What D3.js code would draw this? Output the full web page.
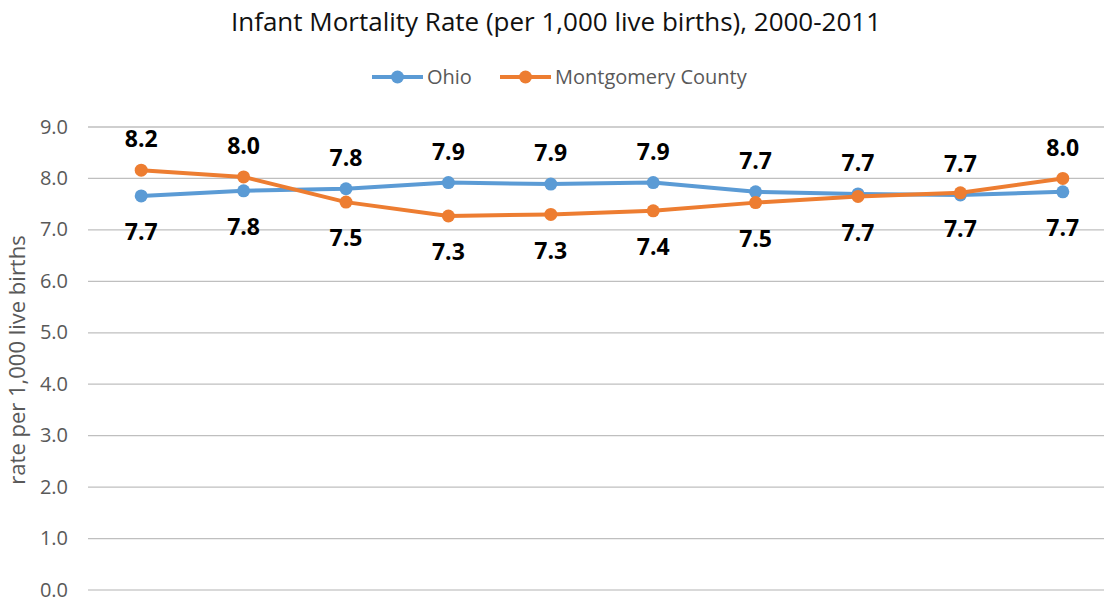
<!DOCTYPE html>
<html>
<head>
<meta charset="utf-8">
<script src="https://cdn.jsdelivr.net/npm/d3@7"></script>
<style>
  html, body { margin: 0; padding: 0; background: #fff; }
  svg { display: block; font-family: "Open Sans", sans-serif; }
</style>
</head>
<body>
<svg id="chart" width="1104" height="600"></svg>
<script>
// 3-year periods across 2000-2011 (axis labels fall below the visible area)
const periods = ["2000-2002", "2001-2003", "2002-2004", "2003-2005", "2004-2006",
  "2005-2007", "2006-2008", "2007-2009", "2008-2010", "2009-2011"];
const ohio = [7.66, 7.76, 7.80, 7.92, 7.89, 7.92, 7.74, 7.70, 7.68, 7.74];
const montgomery = [8.16, 8.03, 7.54, 7.27, 7.30, 7.37, 7.53, 7.65, 7.72, 8.00];
// whether the Ohio label sits above its point (Montgomery goes the other way)
const ohioLabelAbove = [false, false, true, true, true, true, true, true, true, false];
const yTicks = [0, 1, 2, 3, 4, 5, 6, 7, 8, 9];

const svg = d3.select("#chart");
const width = 1104;

const x = d3.scalePoint().domain(periods).range([90, 1114]).padding(0.5);
const y = d3.scaleLinear().domain([0, 9]).range([590, 127]);

const series = [
  { name: "Ohio", values: ohio, color: "#5B9BD5" },
  { name: "Montgomery County", values: montgomery, color: "#ED7D31" }
];

// title
svg.append("text")
  .attr("x", 556).attr("y", 31)
  .attr("text-anchor", "middle")
  .attr("font-size", "26px")
  .attr("fill", "#111")
  .text("Infant Mortality Rate (per 1,000 live births), 2000-2011");

// gridlines
svg.append("g").selectAll("line").data(yTicks).join("line")
  .attr("x1", 88).attr("x2", width)
  .attr("y1", (d) => y(d)).attr("y2", (d) => y(d))
  .attr("stroke", (d) => d === 0 ? "#d9d9d9" : "#bfbfbf")
  .attr("stroke-width", (d) => d === 0 ? 2 : 1.3);

// y axis (labels only)
const yAxis = svg.append("g")
  .attr("transform", "translate(78,0)")
  .call(d3.axisLeft(y).tickValues(yTicks).tickFormat(d3.format(".1f")).tickSize(0).tickPadding(10));
yAxis.select(".domain").remove();
yAxis.selectAll("text")
  .attr("dy", "0.3em")
  .attr("font-family", "Open Sans, sans-serif")
  .attr("font-size", "20px")
  .attr("fill", "#595959");

svg.append("text")
  .attr("transform", "translate(25,360) rotate(-90)")
  .attr("text-anchor", "middle")
  .attr("font-size", "22px")
  .attr("fill", "#595959")
  .text("rate per 1,000 live births");

// lines and markers
const line = d3.line().x((d, i) => x(periods[i])).y((d) => y(d));

for (const s of series) {
  svg.append("path")
    .datum(s.values)
    .attr("fill", "none")
    .attr("stroke", s.color)
    .attr("stroke-width", 4)
    .attr("stroke-linejoin", "round")
    .attr("d", line);

  svg.append("g").selectAll("circle").data(s.values).join("circle")
    .attr("cx", (d, i) => x(periods[i]))
    .attr("cy", (d) => y(d))
    .attr("r", 6.5)
    .attr("fill", s.color);
}

// data labels
for (const s of series) {
  const isOhio = s.name === "Ohio";
  svg.append("g").selectAll("text").data(s.values).join("text")
    .attr("x", (d, i) => x(periods[i]))
    .attr("y", (d, i) => {
      const above = isOhio ? ohioLabelAbove[i] : !ohioLabelAbove[i];
      return above ? y(d) - 31 : y(d) + 36;
    })
    .attr("dy", "0.36em")
    .attr("text-anchor", "middle")
    .attr("font-size", "23px")
    .attr("font-weight", "700")
    .attr("fill", "#000")
    .text((d) => d3.format(".1f")(d));
}

// legend
const legendItems = [
  { name: "Ohio", color: "#5B9BD5", x0: 372 },
  { name: "Montgomery County", color: "#ED7D31", x0: 500 }
];
const legend = svg.append("g").selectAll("g").data(legendItems).join("g")
  .attr("transform", (d) => `translate(${d.x0},77)`);
legend.append("line")
  .attr("x1", 0).attr("x2", 51)
  .attr("stroke", (d) => d.color)
  .attr("stroke-width", 4);
legend.append("circle")
  .attr("cx", 25.5).attr("r", 6.5)
  .attr("fill", (d) => d.color);
legend.append("text")
  .attr("x", 55).attr("dy", "0.35em")
  .attr("font-size", "20px")
  .attr("fill", "#595959")
  .text((d) => d.name);
</script>
</body>
</html>
